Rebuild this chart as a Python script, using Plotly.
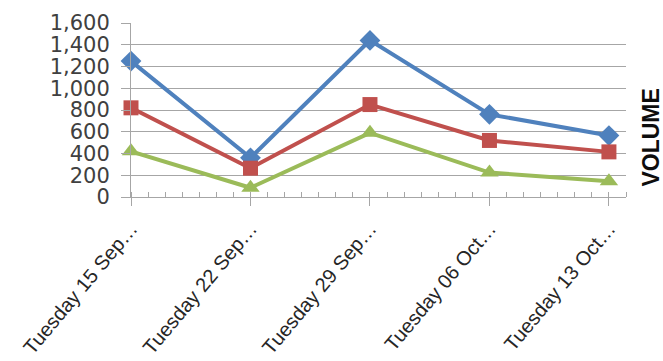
import plotly.graph_objects as go

# Weekly dates (every Tuesday) and the three volume series
dates = ["2015-09-15", "2015-09-22", "2015-09-29", "2015-10-06", "2015-10-13"]
tick_labels = ["Tuesday 15 Sep…", "Tuesday 22 Sep…", "Tuesday 29 Sep…",
               "Tuesday 06 Oct…", "Tuesday 13 Oct…"]
series_blue = [1250, 360, 1440, 760, 565]
series_red = [820, 265, 850, 520, 415]
series_green = [420, 85, 590, 225, 145]

grid = "#a6a6a6"

fig = go.Figure()
for vals, color, symbol, size in [
    (series_blue, "#4f81bd", "diamond", 16),
    (series_red, "#c0504d", "square", 15),
    (series_green, "#9bbb59", "triangle-up", 16),
]:
    fig.add_trace(go.Scatter(
        x=dates, y=vals, mode="lines+markers",
        line=dict(color=color, width=4),
        marker=dict(symbol=symbol, size=size, color=color),
        showlegend=False, cliponaxis=False,
    ))

fig.update_layout(
    width=663, height=361,
    margin=dict(l=131, r=37, t=23, b=164),
    paper_bgcolor="white", plot_bgcolor="white",
    xaxis=dict(
        type="date", range=["2015-09-15", "2015-10-14"],
        tickvals=dates, ticktext=tick_labels,
        tickangle=-50,
        tickfont=dict(family="Liberation Sans", size=20, color="#262626"),
        ticks="outside", ticklen=8, tickcolor=grid, tickwidth=1,
        ticklabelstandoff=3, automargin=False,
        minor=dict(dtick=86400000, ticks="inside", ticklen=5,
                   tickcolor=grid, tickwidth=1, showgrid=False),
        showgrid=False, showline=True, linecolor=grid, linewidth=1,
        zeroline=False,
    ),
    yaxis=dict(
        range=[0, 1600], dtick=200, tickformat=",",
        tickfont=dict(family="DejaVu Sans", size=21, color="#404040"),
        ticks="outside", ticklen=9, tickcolor=grid, tickwidth=1,
        showgrid=True, gridcolor=grid, gridwidth=1,
        showline=True, linecolor=grid, linewidth=1, zeroline=False,
        ticklabelstandoff=7, automargin=False,
    ),
    annotations=[dict(
        text="<b>VOLUME</b>", textangle=-90, showarrow=False,
        xref="paper", yref="paper", x=1.05, y=0.34,
        xanchor="center", yanchor="middle",
        font=dict(family="Liberation Sans", size=23, color="#0d0d0d"),
    )],
)

fig.write_html("out.html")
